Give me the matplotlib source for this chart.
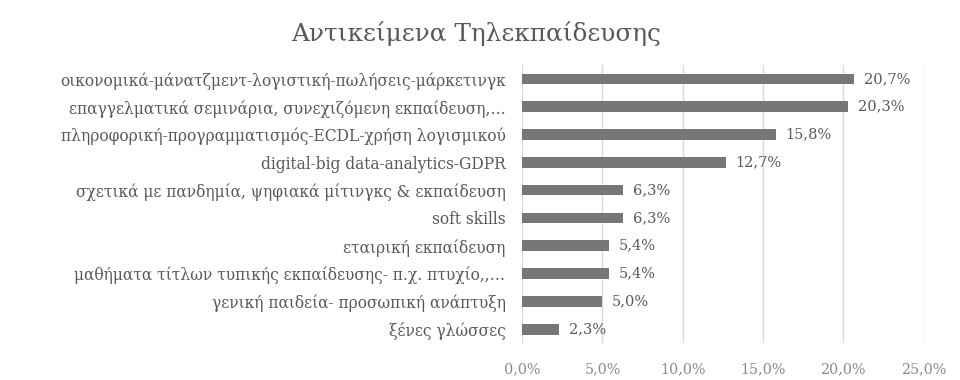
import matplotlib
matplotlib.use("Agg")
import matplotlib.pyplot as plt
import numpy as np

# data, top to bottom as shown
categories = [
    "οικονομικά-μάνατζμεντ-λογιστική-πωλήσεις-μάρκετινγκ",
    "επαγγελματικά σεμινάρια, συνεχιζόμενη εκπαίδευση,…",
    "πληροφορική-προγραμματισμός-ECDL-χρήση λογισμικού",
    "digital-big data-analytics-GDPR",
    "σχετικά με πανδημία, ψηφιακά μίτινγκς & εκπαίδευση",
    "soft skills",
    "εταιρική εκπαίδευση",
    "μαθήματα τίτλων τυπικής εκπαίδευσης- π.χ. πτυχίο,,…",
    "γενική παιδεία- προσωπική ανάπτυξη",
    "ξένες γλώσσες",
]
values = [20.7, 20.3, 15.8, 12.7, 6.3, 6.3, 5.4, 5.4, 5.0, 2.3]
xticks = [0, 5, 10, 15, 20, 25]

text_color = "#595959"
bar_color = "#767676"
plt.rcParams["font.family"] = ["DejaVu Serif"]

fig = plt.figure(figsize=(9.6, 3.8), dpi=100)
ax = fig.add_axes([0.544, 0.097, 0.418, 0.732])

y = np.arange(len(categories))
ax.barh(y, values, height=0.38, color=bar_color, zorder=3)
for yi, v in zip(y, values):
    ax.text(v + 0.6, yi, f"{v:.1f}%".replace(".", ","), va="center", ha="left",
            fontsize=10.5, color=text_color)

ax.set_ylim(len(categories) - 0.5, -0.5)
ax.set_xlim(0, 25)
ax.set_yticks(y)
ax.set_yticklabels(categories, fontsize=11.2, color=text_color)
ax.set_xticks(xticks)
ax.set_xticklabels([f"{t:.1f}%".replace(".", ",") for t in xticks], fontsize=10.3, color="#8a8a8a")
ax.tick_params(length=0)
ax.tick_params(axis="y", pad=12)
ax.tick_params(axis="x", pad=14)
ax.grid(axis="x", color="#d9d9d9", linewidth=1, zorder=0)
for s in ax.spines.values():
    s.set_visible(False)

fig.text(0.496, 0.912, "Αντικείμενα Τηλεκπαίδευσης", ha="center", va="center",
         fontsize=17.8, color=text_color)

fig.savefig("out.png", dpi=100)
